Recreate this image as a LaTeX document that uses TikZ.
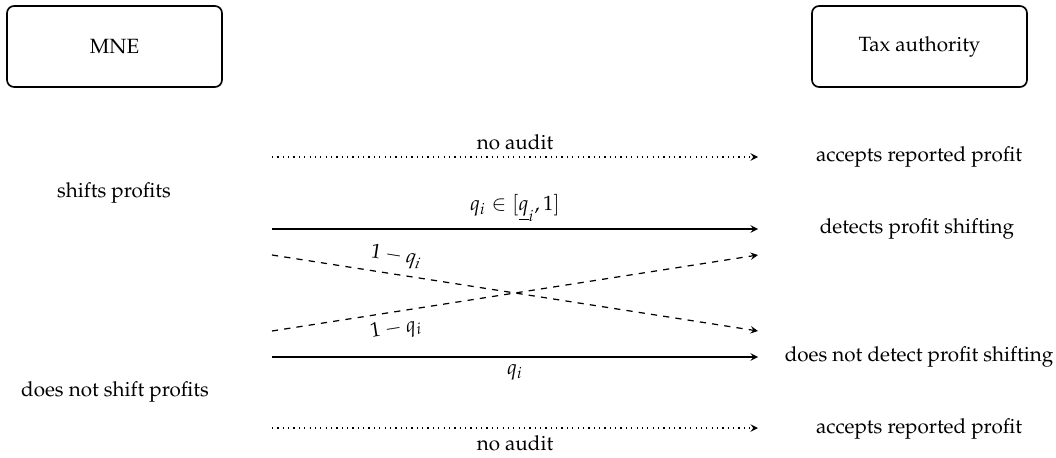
\documentclass[tikz,border=0pt]{standalone}
\usepackage[T1]{fontenc}
\usepackage{mathpazo}
\usetikzlibrary{arrows}
\tikzset{
  player/.style={draw, thick, rounded corners=3.5pt, minimum width=104.3pt, minimum height=39.3pt},
  move/.style={->, >=stealth, semithick},
}
\begin{document}
\begin{tikzpicture}[x=0.485pt, y=-0.485pt]
    \useasboundingbox (0,0) rectangle (1056,458);
    % players
    \node[player] (mne) at (114.5,46.5) {MNE};
    \node[player] (tax) at (919.5,46.5) {Tax authority};
    % MNE choices
    \node (shift) at (114,193) {shifts profits};
    \node (noshift) at (115,392) {does not shift profits};
    % outcomes
    \node (acc1) at (919,157) {accepts reported profit};
    \node (det) at (917,229) {detects profit shifting};
    \node (nodet) at (919,357) {does not detect profit shifting};
    \node (acc2) at (919,429) {accepts reported profit};
    % ends of the arrows
    \coordinate (a1) at (272,157); \coordinate (b1) at (758,157);
    \coordinate (a2) at (272,229); \coordinate (b2) at (758,229);
    \coordinate (a3) at (272,255); \coordinate (b3) at (758,255);
    \coordinate (a4) at (272,331); \coordinate (b4) at (758,331);
    \coordinate (a5) at (272,357); \coordinate (b5) at (758,357);
    \coordinate (a6) at (272,428); \coordinate (b6) at (758,428);
    \draw[move, dotted] (a1) -- node[above] {no audit} (b1);
    \draw[move] (a2) -- node[above] {$q_i \in [\underline{q}_i, 1]$} (b2);
    \draw[move, dashed] (a3) -- node[pos=0.25, above, sloped] {$1-q_i$} (b4);
    \draw[move, dashed] (a4) -- node[pos=0.25, below, sloped] {$1-q_i$} (b3);
    \draw[move] (a5) -- node[below] {$q_i$} (b5);
    \draw[move, dotted] (a6) -- node[below] {no audit} (b6);
\end{tikzpicture}
\end{document}
